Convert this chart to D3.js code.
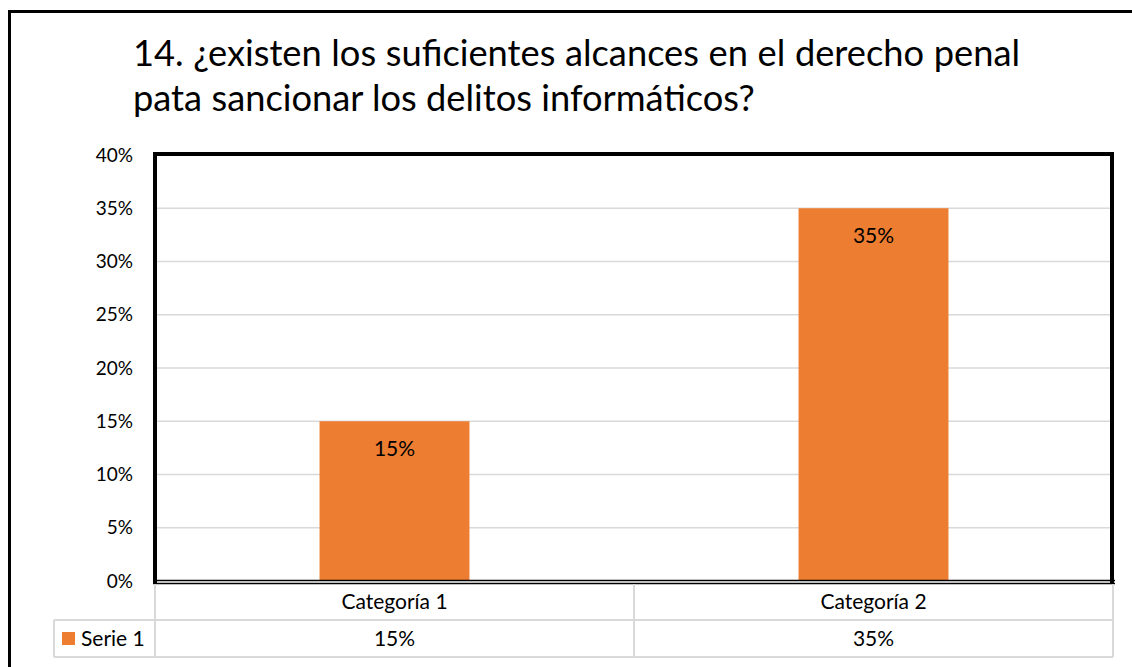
<!DOCTYPE html>
<html>
<head>
<meta charset="utf-8">
<script src="https://cdn.jsdelivr.net/npm/d3@7"></script>
<style>
  body { margin: 0; background: #fff; }
  svg { display: block; font-family: Lato, "Noto Sans", sans-serif; }
</style>
</head>
<body>
<svg id="chart" width="1132" height="667"></svg>
<script>
// data
const categories = ["Categoría 1", "Categoría 2"];
const serie1 = [0.15, 0.35];
const seriesName = "Serie 1";
const yTicks = [0, 0.05, 0.10, 0.15, 0.20, 0.25, 0.30, 0.35, 0.40];
const titleLines = [
    "14. ¿existen los suficientes alcances en el derecho penal",
    "pata sancionar los delitos informáticos?"
];

const orange = "#ED7D31";
const grid = "#d9d9d9";
const plot = { left: 155, right: 1113, top: 155, bottom: 581 };

const svg = d3.select("#chart");

// outer frame (runs off the right and bottom edges)
svg.append("rect")
    .attr("x", 9.5).attr("y", 11.5)
    .attr("width", 1300).attr("height", 800)
    .attr("fill", "none").attr("stroke", "#000").attr("stroke-width", 3);

// title, first line justified
const title = svg.append("g").attr("fill", "#000");
const line2 = title.append("text")
    .attr("x", 133).attr("y", 111)
    .attr("font-size", 34)
    .text(titleLines[1]);
const fs = 34 * 622 / line2.node().getComputedTextLength();
line2.attr("font-size", fs);

const line1 = title.append("text")
    .attr("x", 133).attr("y", 66)
    .attr("font-size", fs)
    .text(titleLines[0]);
const natural = line1.node().getComputedTextLength();
const gaps = titleLines[0].split(" ").length - 1;
line1.attr("word-spacing", (1020 - 133 - natural) / gaps);

// scales
const y = d3.scaleLinear().domain([0, 0.40]).range([plot.bottom, plot.top]);
const x = d3.scaleBand().domain(categories).range([plot.left, plot.right])
    .paddingInner(0.687).paddingOuter(0.3435);
const col = d3.scaleBand().domain(categories).range([plot.left, plot.right]);
const pct = d3.format(".0%");

// gridlines
svg.append("g")
    .selectAll("line")
    .data(yTicks.filter(d => d > 0 && d < 0.40))
    .join("line")
    .attr("x1", plot.left).attr("x2", plot.right)
    .attr("y1", d => y(d)).attr("y2", d => y(d))
    .attr("stroke", grid).attr("stroke-width", 1.5);

// y axis labels
const yAxis = svg.append("g")
    .attr("transform", `translate(${plot.left},0)`)
    .call(d3.axisLeft(y).tickValues(yTicks).tickFormat(pct).tickSize(0).tickPadding(22));
yAxis.select(".domain").remove();
yAxis.selectAll("text")
    .attr("font-family", "Lato, 'Noto Sans', sans-serif")
    .attr("font-size", 19).attr("fill", "#000");

// bars
svg.append("g")
    .selectAll("rect")
    .data(serie1)
    .join("rect")
    .attr("x", (d, i) => x(categories[i]))
    .attr("y", d => y(d))
    .attr("width", x.bandwidth())
    .attr("height", d => y(0) - y(d))
    .attr("fill", orange);

// bar labels
svg.append("g")
    .selectAll("text")
    .data(serie1)
    .join("text")
    .attr("x", (d, i) => x(categories[i]) + x.bandwidth() / 2)
    .attr("y", d => y(d) + 35)
    .attr("text-anchor", "middle")
    .attr("font-size", 21)
    .text(pct);

// plot border
const frame = svg.append("g").attr("stroke", "#000").attr("fill", "none");
frame.append("path")
    .attr("d", `M${plot.left},${plot.bottom + 2}V${plot.top - 1}H${plot.right - 1}V${plot.bottom + 2}`)
    .attr("stroke-width", 4);
frame.append("line")
    .attr("x1", plot.left - 2).attr("x2", plot.right + 2)
    .attr("y1", plot.bottom - 0.5).attr("y2", plot.bottom - 0.5)
    .attr("stroke-width", 1.5);
frame.append("line")
    .attr("x1", plot.left - 2).attr("x2", plot.right + 2)
    .attr("y1", plot.bottom + 2.5).attr("y2", plot.bottom + 2.5)
    .attr("stroke-width", 1.5);

// data table
const rowTop = plot.bottom + 3, rowMid = 620, rowBot = 657;
const legendLeft = 54;
const table = svg.append("g").attr("stroke", grid).attr("stroke-width", 2);
table.append("line").attr("x1", legendLeft).attr("x2", plot.right).attr("y1", rowMid).attr("y2", rowMid);
table.append("line").attr("x1", legendLeft).attr("x2", plot.right).attr("y1", rowBot).attr("y2", rowBot);
table.append("line").attr("x1", legendLeft).attr("x2", legendLeft).attr("y1", rowMid).attr("y2", rowBot);
table.selectAll(".v")
    .data([plot.left, col(categories[1]), plot.right])
    .join("line")
    .attr("x1", d => d).attr("x2", d => d)
    .attr("y1", rowTop).attr("y2", rowBot);

const cells = svg.append("g").attr("font-size", 21).attr("text-anchor", "middle");
cells.selectAll(".cat")
    .data(categories)
    .join("text")
    .attr("x", d => col(d) + col.bandwidth() / 2)
    .attr("y", 609)
    .text(d => d);
cells.selectAll(".val")
    .data(serie1)
    .join("text")
    .attr("x", (d, i) => col(categories[i]) + col.bandwidth() / 2)
    .attr("y", 646)
    .text(pct);

// legend key
svg.append("rect")
    .attr("x", 62).attr("y", 632)
    .attr("width", 13).attr("height", 13)
    .attr("fill", orange);
svg.append("text")
    .attr("x", 81).attr("y", 646)
    .attr("font-size", 21)
    .text(seriesName);
</script>
</body>
</html>
